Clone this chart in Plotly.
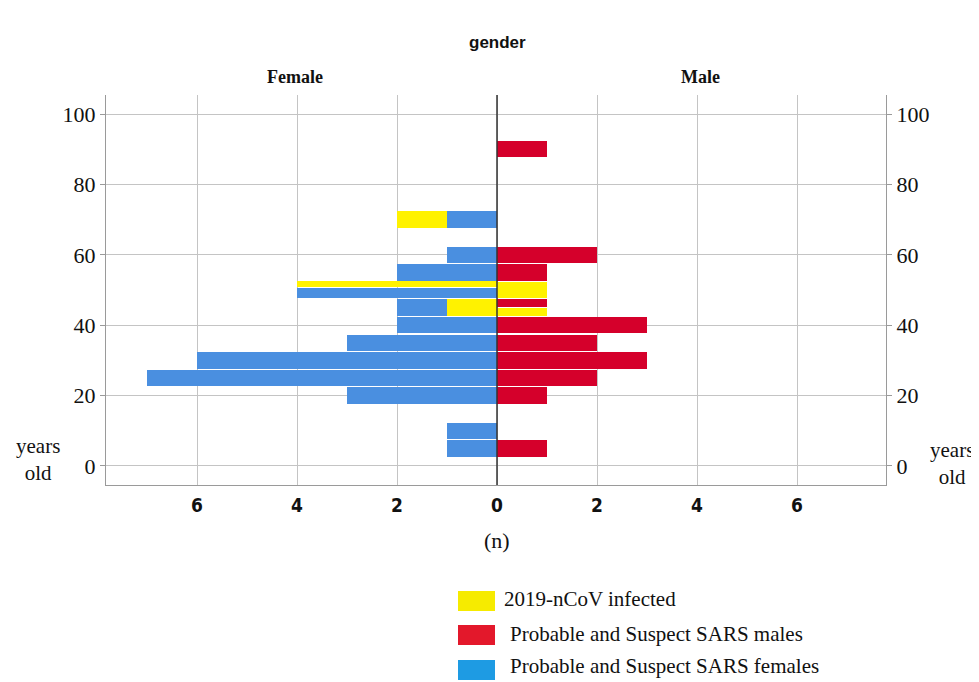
import plotly.graph_objects as go

# ---------------- data ----------------
age_bins = [5, 10, 20, 25, 30, 35, 40, 45, 50, 55, 60, 70, 90]
female_sars = [1, 1, 3, 7, 6, 3, 2, 1, 4, 2, 1, 1, 0]
male_sars = [1, 0, 1, 2, 3, 2, 3, 1, 0, 1, 2, 0, 1]
ncov_female = [0, 0, 0, 0, 0, 0, 0, 1, 4, 0, 0, 1, 0]
ncov_male = [0, 0, 0, 0, 0, 0, 0, 1, 1, 0, 0, 0, 0]

x_tick_vals = [-6, -4, -2, 0, 2, 4, 6]
x_tick_text = ["6", "4", "2", "0", "2", "4", "6"]
y_tick_vals = [0, 20, 40, 60, 80, 100]

legend_labels = ["2019-nCoV infected", "Probable and Suspect SARS males",
                 "Probable and Suspect SARS females"]

# ---------------- styles ----------------
C_YEL = "#fff200"
C_RED = "#d5002b"
C_BLUE = "#4a8fe0"
FULL_W = 4.7
FULL_OFF = -FULL_W / 2

# how 2019-nCoV bars share a bin with SARS bars (hand-edited original)
female_mode = {45: "inner", 50: "split", 70: "outer"}
male_mode = {45: "split"}

fb_y, fb_x, fb_base, fb_w, fb_off = [], [], [], [], []
fy_y, fy_x, fy_base, fy_w, fy_off = [], [], [], [], []
for a, s, n in zip(age_bins, female_sars, ncov_female):
    mode = female_mode.get(a)
    if s:
        fb_y.append(a); fb_x.append(-s)
        if mode == "inner":
            fb_base.append(-n); fb_w.append(FULL_W); fb_off.append(FULL_OFF)
        elif mode == "split":
            fb_base.append(0); fb_w.append(2.84); fb_off.append(-2.36)
        else:
            fb_base.append(0); fb_w.append(FULL_W); fb_off.append(FULL_OFF)
    if n:
        fy_y.append(a); fy_x.append(-n)
        if mode == "outer":
            fy_base.append(-s); fy_w.append(FULL_W); fy_off.append(FULL_OFF)
        elif mode == "split":
            fy_base.append(0); fy_w.append(1.8); fy_off.append(0.77)
        else:
            fy_base.append(0); fy_w.append(FULL_W); fy_off.append(FULL_OFF)

mr_y, mr_x, mr_w, mr_off = [], [], [], []
my_y, my_x, my_w, my_off = [], [], [], []
for a, s, n in zip(age_bins, male_sars, ncov_male):
    mode = male_mode.get(a)
    if s:
        mr_y.append(a); mr_x.append(s)
        if mode == "split":
            mr_w.append(2.2); mr_off.append(0.26)
        else:
            mr_w.append(FULL_W); mr_off.append(FULL_OFF)
    if n:
        my_y.append(a); my_x.append(n)
        if mode == "split":
            my_w.append(2.3); my_off.append(-2.4)
        else:
            my_w.append(FULL_W); my_off.append(FULL_OFF)

fig = go.Figure()
fig.add_trace(go.Bar(y=fb_y, x=fb_x, base=fb_base, width=fb_w, offset=fb_off,
                     orientation="h", marker=dict(color=C_BLUE, line=dict(width=0)),
                     name=legend_labels[2], showlegend=False))
fig.add_trace(go.Bar(y=fy_y, x=fy_x, base=fy_base, width=fy_w, offset=fy_off,
                     orientation="h", marker=dict(color=C_YEL, line=dict(width=0)),
                     name=legend_labels[0], showlegend=False))
fig.add_trace(go.Bar(y=mr_y, x=mr_x, base=[0] * len(mr_x), width=mr_w, offset=mr_off,
                     orientation="h", marker=dict(color=C_RED, line=dict(width=0)),
                     name=legend_labels[1], showlegend=False))
fig.add_trace(go.Bar(y=my_y, x=my_x, base=[0] * len(my_x), width=my_w, offset=my_off,
                     orientation="h", marker=dict(color=C_YEL, line=dict(width=0)),
                     name=legend_labels[0], showlegend=False))
# dummy trace so right axis is drawn
fig.add_trace(go.Scatter(x=[None], y=[None], yaxis="y2", showlegend=False))

# page has an 8px body margin -> work in page pixels, shrink figure accordingly
PAGE_OFF = 8
W, H = 979 - PAGE_OFF, 682 - PAGE_OFF
L, R, T, B = 106, 886, 95, 485   # plot area in page pixels

def px(xp):
    return (xp - L) / (R - L)

def py(yp):
    return (B - yp) / (B - T)

serif = "Liberation Serif, Times New Roman, serif"
narrow = "Liberation Sans Narrow, Arial Narrow, DejaVu Sans Condensed, sans-serif"
grid_c = "#c4c4c4"
axis_c = "#9a9a9a"

fig.update_layout(
    width=W, height=H,
    margin=dict(l=L - PAGE_OFF, r=(W + PAGE_OFF) - R, t=T - PAGE_OFF, b=(H + PAGE_OFF) - B, pad=0),
    paper_bgcolor="white", plot_bgcolor="white",
    barmode="overlay", bargap=0,
    xaxis=dict(range=[-7.82, 7.78], tickvals=x_tick_vals,
               ticktext=["<b>%s</b>" % t for t in x_tick_text],
               showgrid=True, gridcolor=grid_c, gridwidth=1, zeroline=False,
               showline=True, linecolor=axis_c, linewidth=1, mirror=False,
               ticks="outside", ticklen=3, tickcolor="rgba(0,0,0,0)",
               tickfont=dict(family=narrow, size=19, color="#111"),
               fixedrange=True),
    yaxis=dict(range=[-5.4, 105.4], tickvals=y_tick_vals,
               showgrid=True, gridcolor=grid_c, gridwidth=1, zeroline=False,
               showline=True, linecolor=axis_c, linewidth=1, mirror=False,
               ticks="outside", ticklen=5, tickcolor=axis_c,
               tickfont=dict(family=serif, size=22, color="#111")),
    yaxis2=dict(range=[-5.4, 105.4], tickvals=y_tick_vals, overlaying="y", side="right",
                showgrid=False, zeroline=False,
                showline=True, linecolor=axis_c, linewidth=1,
                ticks="outside", ticklen=5, tickcolor=axis_c,
                tickfont=dict(family=serif, size=22, color="#111")),
    font=dict(family=serif, color="#111"),
)

# zero line (dark) above bars
fig.add_shape(type="line", xref="x", yref="paper", x0=0, x1=0, y0=0, y1=1,
              line=dict(color="#333333", width=1.5), layer="above")

ann = []
ann.append(dict(text="<b>gender</b>", x=px(497), y=py(42),
                font=dict(family="Liberation Sans, Arial, sans-serif", size=17, color="#111")))
ann.append(dict(text="<b>Female</b>", x=px(295), y=py(77),
                font=dict(family=serif, size=18, color="#111")))
ann.append(dict(text="<b>Male</b>", x=px(700), y=py(77),
                font=dict(family=serif, size=18, color="#111")))
ann.append(dict(text="(n)", x=px(497), y=py(540),
                font=dict(family=serif, size=22, color="#111")))
ann.append(dict(text="years<br>old", x=px(38), y=py(459),
                font=dict(family=serif, size=21, color="#111")))
ann.append(dict(text="years<br>old", x=px(952), y=py(463),
                font=dict(family=serif, size=21, color="#111")))

# legend (drawn manually)
leg_colors = ["#f6eb00", "#e3182b", "#1e9be3"]
leg_box_y = [(591, 611), (625, 645), (660, 680)]
leg_text_y = [599, 634, 666]
leg_text_x = [502, 508, 508]
for lab, col, (y0, y1), tx, ty in zip(legend_labels, leg_colors, leg_box_y, leg_text_x, leg_text_y):
    fig.add_shape(type="rect", xref="paper", yref="paper",
                  x0=px(458), x1=px(495), y0=py(y1), y1=py(y0),
                  fillcolor=col, line=dict(width=0))
    ann.append(dict(text=lab, x=px(tx), y=py(ty), xanchor="left",
                    font=dict(family=serif, size=21, color="#111")))

for a in ann:
    a.setdefault("xanchor", "center")
    fig.add_annotation(xref="paper", yref="paper", showarrow=False, yanchor="middle", **a)

fig.write_html("out.html")
